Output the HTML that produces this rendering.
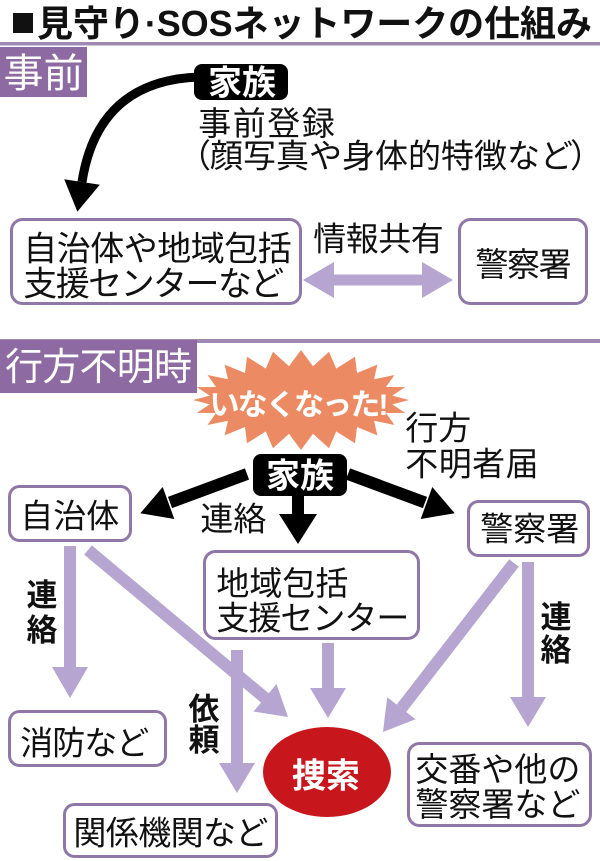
<!DOCTYPE html>
<html><head><meta charset="utf-8">
<style>html,body{margin:0;padding:0;background:#fff}svg{display:block}</style>
</head><body>
<svg width="600" height="861" viewBox="0 0 600 861" xmlns="http://www.w3.org/2000/svg" font-family="'Liberation Sans','Noto Sans CJK JP',sans-serif" fill="#111">
<!-- Title -->
<rect x="13" y="13" width="20" height="20" fill="#111"/>
<text x="37" y="36" font-size="36" font-weight="700" textLength="555" lengthAdjust="spacing">見守り·SOSネットワークの仕組み</text>
<rect x="0" y="42" width="600" height="3.5" fill="#9d89b1"/>

<!-- 事前 section -->
<rect x="0" y="47" width="87" height="50" fill="#8d6ba2"/>
<text x="43.5" y="87" font-size="40" fill="#fff" text-anchor="middle">事前</text>

<path d="M200,77 Q98,80 82,182" fill="none" stroke="#000" stroke-width="9"/>
<polygon points="64.2,179.2 99.8,184.8 77.4,211.6" fill="#000"/>

<rect x="194" y="64" width="94" height="36" rx="8" fill="#000"/>
<text x="242" y="94.5" font-size="34" font-weight="700" fill="#fff" text-anchor="middle">家族</text>

<text x="198.3" y="135" font-size="33" textLength="136.4" lengthAdjust="spacing">事前登録</text>
<text y="167.5" font-size="33" x="178 210 243 276 309 342 375 408 441 474 507 540 570">（顔写真や身体的特徴など）</text>

<rect x="11.5" y="219.5" width="289" height="84" rx="11" fill="#fff" stroke="#8f78a8" stroke-width="3"/>
<text x="23.3" y="260.5" font-size="34" textLength="268.4" lengthAdjust="spacing">自治体や地域包括</text>
<text x="23.3" y="295.5" font-size="34" textLength="261" lengthAdjust="spacing">支援センターなど</text>

<text x="313.3" y="250.7" font-size="33" textLength="130.4" lengthAdjust="spacing">情報共有</text>
<polygon points="303,280 334,262 334,274.5 422,274.5 422,262 453,280 422,298 422,285.5 334,285.5 334,298" fill="#b5a5d0"/>

<rect x="459.5" y="219.5" width="127" height="84" rx="11" fill="#fff" stroke="#8f78a8" stroke-width="3"/>
<text x="475.4" y="275.8" font-size="33" textLength="96.2" lengthAdjust="spacing">警察署</text>

<!-- 行方不明時 section -->
<rect x="0" y="339" width="600" height="4" fill="#9d89b1"/>
<rect x="0" y="340" width="197" height="53" fill="#8d6ba2"/>
<text x="5" y="380" font-size="38" fill="#fff" textLength="187" lengthAdjust="spacing">行方不明時</text>

<polygon fill="#ec8b63" points="409,400 392.2,404.4 405.3,412.9 386,413 394.5,425 374,420.7 377.4,435.4 357,427 355,443.3 336.2,431.4 329,448.3 313,433.7 301,450 289,433.7 273,448.3 265.8,431.4 247,443.3 245,427 224.6,435.4 228,420.7 207.5,425 216,413 196.7,412.9 209.8,404.4 193,400 209.8,395.6 196.7,387.1 216,387 207.5,375 228,379.3 224.6,364.6 245,373 247,356.7 265.8,368.6 273,351.7 289,366.3 301,350 313,366.3 329,351.7 336.2,368.6 355,356.7 357,373 377.4,364.6 374,379.3 394.5,375 386,387 405.3,387.1 392.2,395.6"/>
<text x="209.5" y="415" font-size="30" font-weight="700" fill="#fff" textLength="179" lengthAdjust="spacing">いなくなった!</text>

<text x="405.3" y="439.7" font-size="33">行方</text>
<text x="405.3" y="475.7" font-size="33" textLength="133.3" lengthAdjust="spacing">不明者届</text>

<!-- black arrows from 家族 -->
<line x1="247" y1="474" x2="170" y2="502.5" stroke="#000" stroke-width="12"/>
<polygon points="140.3,513.3 162.7,487 174.3,519" fill="#000"/>
<line x1="348" y1="474" x2="425" y2="502.5" stroke="#000" stroke-width="12"/>
<polygon points="454.7,513.3 432.3,487 420.7,519" fill="#000"/>
<rect x="292" y="494" width="12" height="22" fill="#000"/>
<polygon points="279,514 317,514 298,544" fill="#000"/>

<rect x="253" y="454" width="94" height="42" rx="8" fill="#000"/>
<text x="300" y="487.5" font-size="34" font-weight="700" fill="#fff" text-anchor="middle">家族</text>

<text x="200.4" y="530.7" font-size="33">連絡</text>

<!-- purple arrows -->
<g fill="#b5a5d0" stroke="none">
<rect x="64" y="546" width="12" height="122"/>
<polygon points="52,667 88,667 70,698"/>
<polygon points="253.5,711.6 276.5,684 288,717"/>
<rect x="322" y="643" width="12" height="47"/>
<polygon points="310,688 346,688 328,718"/>
<rect x="231" y="650" width="12" height="115"/>
<polygon points="219,763 255,763 237,793"/>
<polygon points="415.6,719.3 387.2,697.3 383,732"/>
<rect x="522" y="562" width="12" height="137"/>
<polygon points="510,697 546,697 528,727"/>
</g>
<line x1="88" y1="550" x2="265" y2="698" stroke="#b5a5d0" stroke-width="12"/>
<line x1="514" y1="563" x2="401.4" y2="708.3" stroke="#b5a5d0" stroke-width="12"/>

<!-- boxes middle -->
<rect x="9.5" y="486.5" width="121" height="54" rx="10" fill="#fff" stroke="#8f78a8" stroke-width="3"/>
<text x="20.3" y="527.7" font-size="33">自治体</text>

<rect x="468.5" y="501.5" width="120" height="54" rx="10" fill="#fff" stroke="#8f78a8" stroke-width="3"/>
<text x="480.3" y="540.7" font-size="33">警察署</text>

<rect x="204.5" y="551.5" width="214" height="87" rx="11" fill="#fff" stroke="#8f78a8" stroke-width="3"/>
<text x="216.4" y="595" font-size="33">地域包括</text>
<text x="216.4" y="629.5" font-size="33" textLength="193" lengthAdjust="spacing">支援センター</text>

<!-- vertical labels -->
<text x="42" y="606" font-size="31" font-weight="700" text-anchor="middle">連</text>
<text x="42" y="641" font-size="31" font-weight="700" text-anchor="middle">絡</text>
<text x="204" y="720" font-size="31" font-weight="700" text-anchor="middle">依</text>
<text x="204" y="751" font-size="31" font-weight="700" text-anchor="middle">頼</text>
<text x="556" y="628" font-size="31" font-weight="700" text-anchor="middle">連</text>
<text x="556" y="661" font-size="31" font-weight="700" text-anchor="middle">絡</text>

<!-- bottom boxes -->
<rect x="9.5" y="711.5" width="156" height="54" rx="10" fill="#fff" stroke="#8f78a8" stroke-width="3"/>
<text x="20.3" y="754.7" font-size="33" textLength="129" lengthAdjust="spacing">消防など</text>

<rect x="64.5" y="804.5" width="212" height="52" rx="10" fill="#fff" stroke="#8f78a8" stroke-width="3"/>
<text x="73.4" y="844.7" font-size="33" textLength="195" lengthAdjust="spacing">関係機関など</text>

<rect x="408.5" y="743.5" width="182" height="82" rx="11" fill="#fff" stroke="#8f78a8" stroke-width="3"/>
<text x="415.4" y="781" font-size="33">交番や他の</text>
<text x="415.4" y="816" font-size="33">警察署など</text>

<ellipse cx="327" cy="772" rx="64" ry="45" fill="#c8161d"/>
<text x="326" y="787.5" font-size="34" font-weight="700" fill="#fff" text-anchor="middle">捜索</text>
</svg>
</body></html>
